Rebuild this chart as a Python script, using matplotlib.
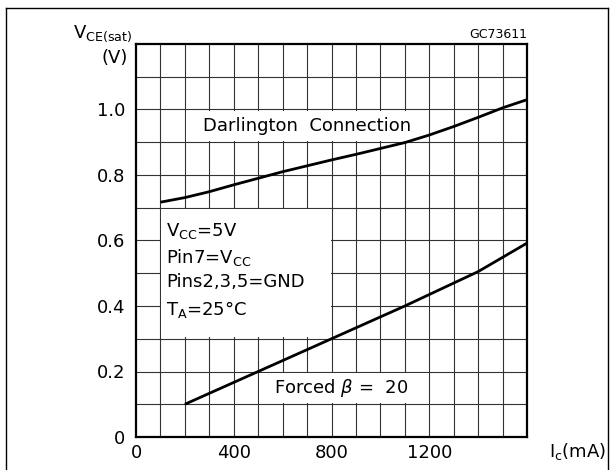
import matplotlib
matplotlib.use("Agg")
import matplotlib.pyplot as plt
from matplotlib.patches import Rectangle
from matplotlib.lines import Line2D

# ---- data ----
darl_x = [100, 200, 300, 400, 500, 600, 700, 800, 900, 1000, 1100, 1200, 1300, 1400, 1500, 1600]
darl_y = [0.717, 0.731, 0.749, 0.770, 0.790, 0.810, 0.828, 0.846, 0.863, 0.881, 0.899, 0.922, 0.948, 0.976, 1.005, 1.030]

forced_x = [200, 500, 800, 1100, 1400, 1600]
forced_y = [0.100, 0.200, 0.300, 0.400, 0.505, 0.592]

xtick_vals = [0, 400, 800, 1200]
xtick_labels = ["0", "400", "800", "1200"]
ytick_vals = [0, 0.2, 0.4, 0.6, 0.8, 1.0]
ytick_labels = ["0", "0.2", "0.4", "0.6", "0.8", "1.0"]

cond_lines = [r"V$_{\rm CC}$=5V", r"Pin7=V$_{\rm CC}$", "Pins2,3,5=GND", r"T$_{\rm A}$=25°C"]
cond_y = [0.638, 0.556, 0.479, 0.398]

W, H = 610, 470
plt.rcParams['font.family'] = ['DejaVu Sans']
plt.rcParams['mathtext.fontset'] = 'dejavusans'
fig = plt.figure(figsize=(W / 100, H / 100), dpi=100)
ax = fig.add_axes([136 / W, (H - 437) / H, 391 / W, 393 / H])
ax.set_xlim(0, 1600)
ax.set_ylim(0, 1.2)

# grid
gcol = '#333333'
ax.vlines(range(100, 1600, 100), 0, 1.2, colors=gcol, lw=0.8, zorder=1)
ax.hlines([i / 10 for i in range(1, 12)], 0, 1600, colors=gcol, lw=0.8, zorder=1)

# white boxes behind labels
dx, dy = 4, 0.004
for (x0, x1, y0, y1) in [(200, 1200, 0.9, 1.0), (100, 800, 0.3, 0.7), (500, 1200, 0.1, 0.2)]:
    ax.add_patch(Rectangle((x0 + dx, y0 + dy), x1 - x0 - 2 * dx, y1 - y0 - 2 * dy,
                           facecolor='white', edgecolor='none', zorder=2))

ax.plot(darl_x, darl_y, color='black', lw=2.0, zorder=3, solid_capstyle='butt')
ax.plot(forced_x, forced_y, color='black', lw=2.0, zorder=3, solid_capstyle='butt')

fs = 13
ax.text(700, 0.95, "Darlington  Connection", ha='center', va='center', fontsize=fs, zorder=4)
ax.text(840, 0.15, r"Forced $\beta$ =  20", ha='center', va='center', fontsize=fs, zorder=4)
for s, yv in zip(cond_lines, cond_y):
    ax.text(123, yv, s, ha='left', va='center_baseline', fontsize=fs, zorder=4)

ax.set_xticks(xtick_vals)
ax.set_xticklabels(xtick_labels)
ax.set_yticks(ytick_vals)
ax.set_yticklabels(ytick_labels)
ax.tick_params(axis='both', length=0, labelsize=fs)
ax.tick_params(axis='x', pad=5)
ax.tick_params(axis='y', pad=8)
for sp in ax.spines.values():
    sp.set_linewidth(1.6)
    sp.set_zorder(5)

# axis labels
fig.text(128 / W, (H - 58) / H, "(V)", ha='right', va='center', fontsize=fs)
fig.text(132 / W, (H - 34) / H, r"V$_{\rm CE(sat)}$", ha='right', va='center', fontsize=fs)
fig.text(578 / W, (H - 452) / H, r"I$_{\rm c}$(mA)", ha='center', va='center', fontsize=fs)
fig.text(527 / W, (H - 34) / H, "GC73611", ha='right', va='center', fontsize=9)

# outer frame (open at bottom)
fig.add_artist(Line2D([5.5 / W, 5.5 / W], [0, (H - 8) / H], color='black', lw=1.0))
fig.add_artist(Line2D([5.5 / W, 607.5 / W], [(H - 8) / H, (H - 8) / H], color='black', lw=1.0))
fig.add_artist(Line2D([607.5 / W, 607.5 / W], [0, (H - 8) / H], color='black', lw=1.0))

fig.savefig("out.png", dpi=100)
